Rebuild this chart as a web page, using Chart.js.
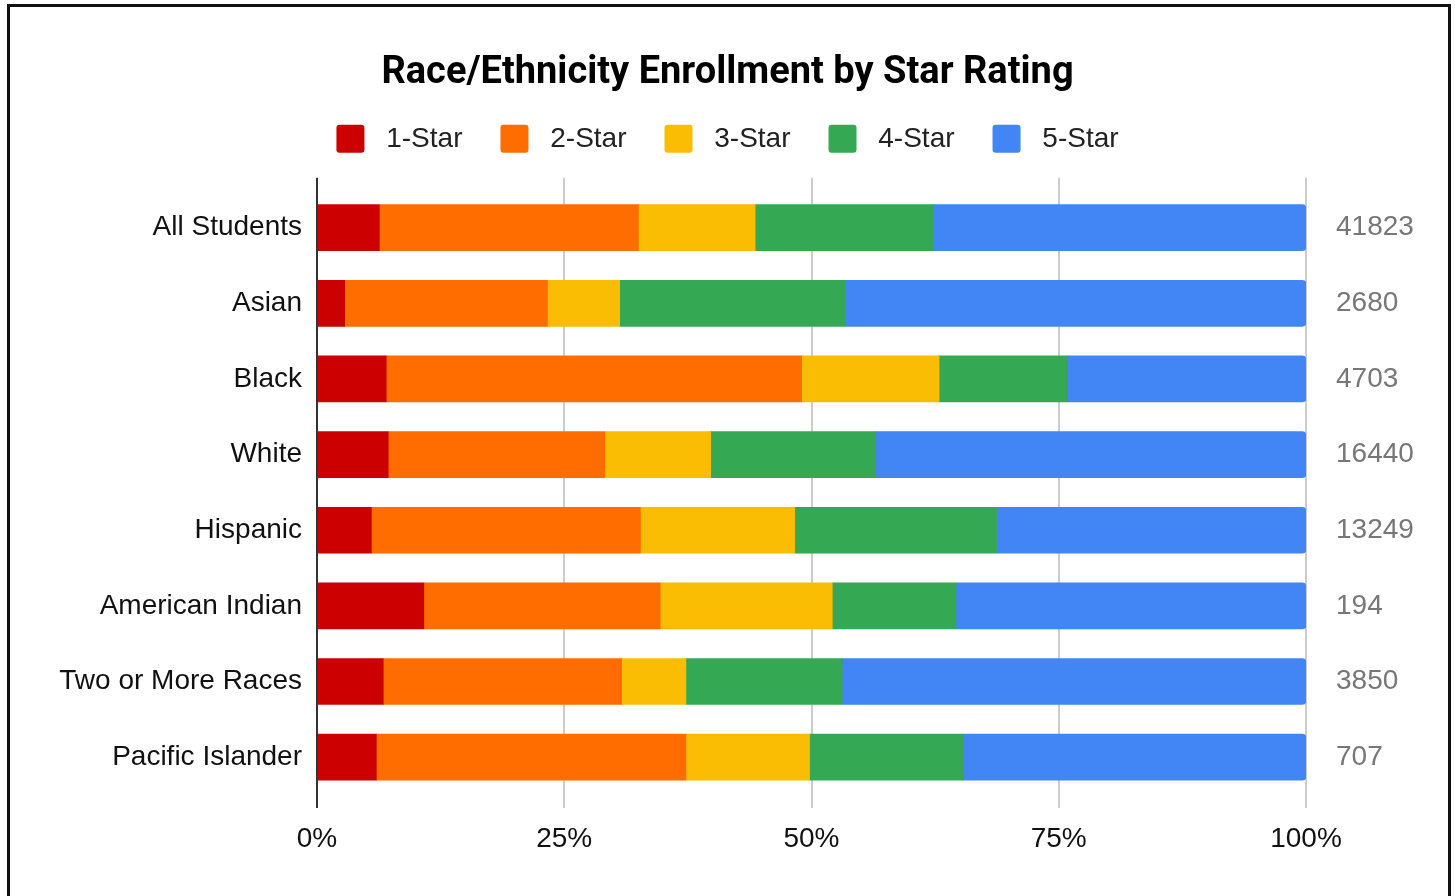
<!DOCTYPE html>
<html>
<head>
<meta charset="utf-8">
<script src="https://cdn.jsdelivr.net/npm/chart.js@4.4.1/dist/chart.umd.min.js"></script>
<style>
  html, body { margin: 0; padding: 0; background: #fff; overflow: hidden; }
  #frame { position: absolute; left: 7px; top: 4px; width: 1438px; height: 1000px; border: 3px solid #111; }
  #wrap { position: absolute; left: 0; top: 0; width: 1455px; height: 896px; }
</style>
</head>
<body>
<div id="frame"></div>
<div id="wrap"><canvas id="starChart"></canvas></div>
<script>
const groups = ["All Students", "Asian", "Black", "White", "Hispanic", "American Indian", "Two or More Races", "Pacific Islander"];
const enrollment = ["41823", "2680", "4703", "16440", "13249", "194", "3850", "707"];
const ratingNames = ["1-Star", "2-Star", "3-Star", "4-Star", "5-Star"];
const ratingColors = ["#cc0000", "#ff6d01", "#fbbc04", "#34a853", "#4285f4"];

// percent of enrollment per star rating, one array per rating
const oneStar   = [6.3, 2.8, 7.0, 7.2, 5.5, 10.8, 6.7, 6.0];
const twoStar   = [26.2, 20.5, 42.0, 21.9, 27.2, 23.9, 24.1, 31.3];
const threeStar = [11.8, 7.3, 13.9, 10.7, 15.6, 17.4, 6.5, 12.5];
const fourStar  = [18.0, 22.8, 13.0, 16.7, 20.4, 12.5, 15.8, 15.5];
const fiveStar  = [37.7, 46.6, 24.1, 43.5, 31.3, 35.4, 46.9, 34.7];
const xTicks = [0, 25, 50, 75, 100];

const seriesValues = [oneStar, twoStar, threeStar, fourStar, fiveStar];

const labelFont = { family: "'Liberation Sans', Arial, sans-serif", size: 28 };
const gridColor = c => (c.tick && c.tick.value === 0 ? "#333333" : "#cccccc");

const canvas = document.getElementById("starChart");

new Chart(canvas, {
  type: "bar",
  data: {
    labels: groups,
    datasets: seriesValues.map((vals, i) => ({
      label: ratingNames[i],
      data: vals,
      backgroundColor: ratingColors[i],
      borderColor: ratingColors[i],
      borderWidth: 0,
      barThickness: 46,
      borderSkipped: false,
      borderRadius: i === seriesValues.length - 1
        ? { topLeft: 0, bottomLeft: 0, topRight: 4, bottomRight: 4 }
        : 0,
      xAxisID: "x",
      yAxisID: "y"
    }))
  },
  options: {
    indexAxis: "y",
    responsive: true,
    maintainAspectRatio: false,
    animation: false,
    layout: { padding: 0 },
    plugins: {
      title: {
        display: true,
        text: "Race/Ethnicity Enrollment by Star Rating",
        color: "#000",
        font: { family: "Roboto, sans-serif", size: 38, weight: "bold", lineHeight: 0.68 },
        padding: { top: 61, bottom: 0 }
      },
      legend: {
        position: "top",
        labels: {
          color: "#222",
          font: labelFont,
          boxWidth: 28,
          boxHeight: 28,
          useBorderRadius: true,
          borderRadius: 3,
          padding: 38,
          generateLabels: chart =>
            Chart.defaults.plugins.legend.labels.generateLabels(chart)
              .map(item => ({ ...item, text: " " + item.text }))
        }
      },
      tooltip: { enabled: false }
    },
    scales: {
      x: {
        stacked: true,
        min: 0,
        max: 100,
        afterFit: s => { s.height = 101; },
        afterBuildTicks: s => { s.ticks = xTicks.map(v => ({ value: v })); },
        ticks: {
          color: "#111",
          font: labelFont,
          padding: 14,
          callback: v => v + "%"
        },
        grid: { drawTicks: true, tickLength: 13, lineWidth: 2, color: gridColor },
        border: { display: false }
      },
      // empty top axis: only carries the short grid stubs above the bars
      xTop: {
        type: "linear",
        position: "top",
        min: 0,
        max: 100,
        afterFit: s => { s.height = 27; },
        afterBuildTicks: s => { s.ticks = xTicks.map(v => ({ value: v })); },
        ticks: { display: false },
        grid: { drawOnChartArea: false, drawTicks: true, tickLength: 12, lineWidth: 2, color: gridColor },
        border: { display: false }
      },
      y: {
        stacked: true,
        position: "left",
        afterFit: s => { s.width = 317; },
        ticks: { color: "#111", font: labelFont, padding: 7 },
        grid: { display: false },
        border: { display: false }
      },
      y2: {
        type: "category",
        position: "right",
        labels: enrollment,
        offset: true,
        afterFit: s => { s.width = 149; },
        ticks: { color: "#777", font: labelFont, padding: 22 },
        grid: { display: false },
        border: { display: false }
      }
    }
  }
});
</script>
</body>
</html>
